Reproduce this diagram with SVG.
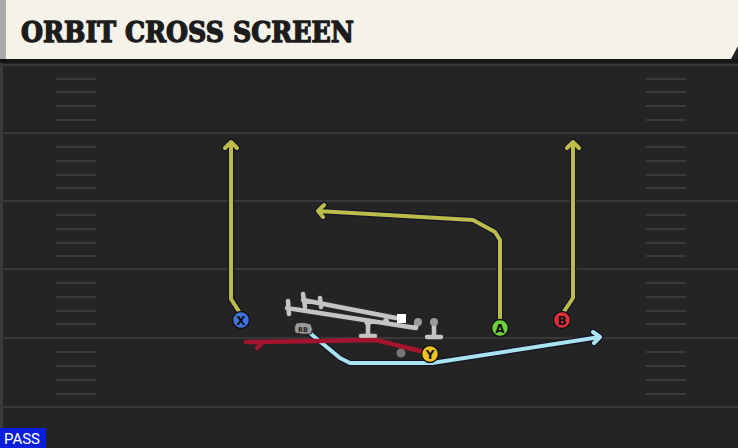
<svg xmlns="http://www.w3.org/2000/svg" width="738" height="448" viewBox="0 0 738 448">
<style>
.yard{stroke:#383838;stroke-width:2}
.hash{stroke:#3a3a3a;stroke-width:2}
.out{fill:none;stroke:#15152a;stroke-width:6.5;stroke-linejoin:round;stroke-linecap:round}
.olive{fill:none;stroke:#bbbc49;stroke-width:4;stroke-linejoin:round;stroke-linecap:round}
.blue{fill:none;stroke:#a8e3ef;stroke-width:4;stroke-linejoin:round;stroke-linecap:round}
.red{fill:none;stroke:#a5142f;stroke-width:4.5;stroke-linejoin:round;stroke-linecap:round}
.ol{fill:none;stroke:#c4c4c4;stroke-width:4.5;stroke-linecap:round}
.olo{fill:none;stroke:#2a2a2a;stroke-width:6.5;stroke-linecap:round}
.pl{stroke:#141414;stroke-width:1.5}
.lbl{font-family:"DejaVu Sans","Liberation Sans",sans-serif;font-weight:bold;font-size:12px;fill:#111;text-anchor:middle}
</style>
<rect x="0" y="0" width="738" height="448" fill="#242424"/>
<rect x="0" y="59" width="3" height="389" fill="#3a3a3a"/>
<g id="header">
<rect x="0" y="0" width="6" height="60" fill="#a9a9a9"/>
<polygon points="6,0 738,0 738,46 731,59 6,59" fill="#f5f2ea"/>
<rect x="0" y="59" width="738" height="4" fill="#151515"/>
<text x="21" y="42" font-family="DejaVu Serif, Liberation Serif, serif" font-weight="bold" font-size="27" fill="#1c1c1c" stroke="#1c1c1c" stroke-width="1.4" stroke-linejoin="round" textLength="333" lengthAdjust="spacingAndGlyphs">ORBIT CROSS SCREEN</text>
</g>
<g id="field">
<line class="yard" x1="0" y1="65" x2="738" y2="65"/>
<line class="yard" x1="0" y1="133" x2="738" y2="133"/>
<line class="yard" x1="0" y1="201" x2="738" y2="201"/>
<line class="yard" x1="0" y1="269" x2="738" y2="269"/>
<line class="yard" x1="0" y1="338" x2="738" y2="338"/>
<line class="yard" x1="0" y1="407" x2="738" y2="407"/>
<path class="hash" d="M56 79H96M56 92H96M56 106H96M56 120H96M56 147H96M56 161H96M56 175H96M56 188H96M56 215H96M56 229H96M56 243H96M56 256H96M56 283H96M56 297H96M56 311H96M56 324H96M56 352H96M56 366H96M56 380H96M56 394H96"/>
<path class="hash" d="M646 79H686M646 92H686M646 106H686M646 120H686M646 147H686M646 161H686M646 175H686M646 188H686M646 215H686M646 229H686M646 243H686M646 256H686M646 283H686M646 297H686M646 311H686M646 324H686M646 352H686M646 366H686M646 380H686M646 394H686"/>
</g>
<g id="formation">
<path class="olo" d="M287 308L416 328M303 300L396 318M288 301L289 314M303 294L305 307M320 298L321 307M416 328L417 322M368 322L368 335M361 336H375M434 322V336M427 337H441"/>
<path class="ol" d="M287 308L416 328M303 300L396 318M288 301L289 314M303 294L305 307M320 298L321 307M416 328L417 322M368 322L368 335M361 336H375M434 322V336M427 337H441"/>
<circle cx="418" cy="322" r="4" fill="#9a9a9a"/>
<circle cx="434" cy="322" r="4" fill="#9a9a9a"/>
<circle cx="368" cy="322" r="3.5" fill="#c4c4c4"/>
<circle cx="386" cy="321" r="3" fill="#c4c4c4"/>
<rect x="397" y="314" width="9" height="9" fill="#ffffff"/>
<circle cx="401" cy="353" r="4.5" fill="#777"/>
</g>
<g id="connectors">
<path class="out" d="M240 313L231 299V142M225 148L231 142L237 148"/>
<path class="olive" d="M240 313L231 299V142M225 148L231 142L237 148"/>
<path class="out" d="M563 313L573 298V142M567 148L573 142L579 148"/>
<path class="olive" d="M563 313L573 298V142M567 148L573 142L579 148"/>
<path class="out" d="M500 320V240L495 232L473 220L318 211M324 205L318 211L323 217"/>
<path class="olive" d="M500 320V240L495 232L473 220L318 211M324 205L318 211L323 217"/>
<path class="out" d="M311 334L340 358L350 363H432L600 337M593 332L600 337L594 343"/>
<path class="blue" d="M311 334L340 358L350 363H432L600 337M593 332L600 337L594 343"/>
<path class="red" d="M428 353L376 340L246 342M263 342L257 348"/>
</g>
<g id="RB">
<path d="M296 323Q303 321 311 324Q314 330 311 334Q302 335 295 333Q293 327 296 323Z" fill="#9a9a9a" stroke="#222" stroke-width="1"/>
<text x="303" y="332" font-family="DejaVu Sans, sans-serif" font-weight="bold" font-size="6.5" fill="#222" text-anchor="middle">RB</text>
</g>
<g id="X"><circle class="pl" cx="241" cy="320" r="8.5" fill="#3f73dc"/><text class="lbl" x="241" y="324.5">X</text></g>
<g id="A"><circle class="pl" cx="500" cy="328" r="8.5" fill="#6fd13b"/><text class="lbl" x="500" y="332.5">A</text></g>
<g id="B"><circle class="pl" cx="562" cy="320" r="8.5" fill="#e0303b"/><text class="lbl" x="562" y="324.5">B</text></g>
<g id="Y"><circle class="pl" cx="430" cy="354" r="8.5" fill="#f0c21e"/><text class="lbl" x="430" y="358.5">Y</text></g>
<g id="pass">
<rect x="0" y="428" width="46" height="20" fill="#0a1fdc"/>
<text x="22" y="444" font-family="Roboto, Liberation Sans, sans-serif" font-size="15" fill="#ffffff" text-anchor="middle">PASS</text>
</g>
</svg>
